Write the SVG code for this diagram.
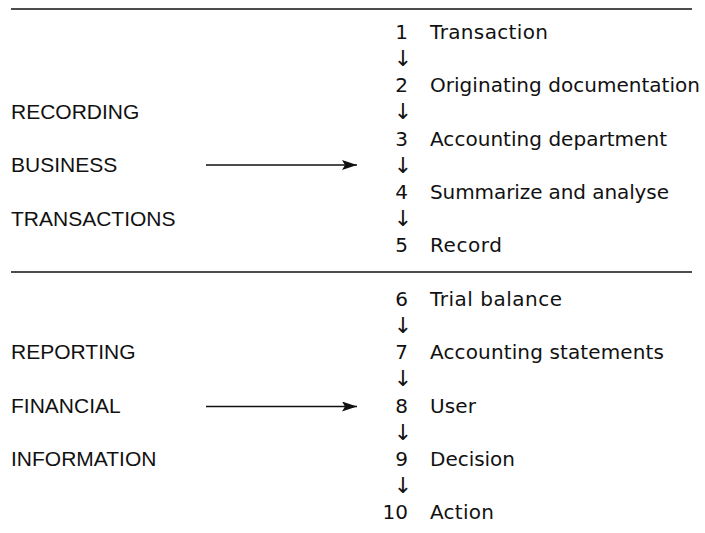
<svg xmlns="http://www.w3.org/2000/svg" width="705" height="533" viewBox="0 0 705 533">
<style>
text{font-family:"DejaVu Sans","Liberation Sans",Arial,sans-serif;font-size:20px;fill:#111}
.cap{font-family:"Liberation Sans",Arial,sans-serif;font-size:21px}
.num{text-anchor:end}
.dn{text-anchor:middle;font-size:22px}
.rule{stroke:#111;stroke-width:1.5}
.conn{stroke:#111;stroke-width:1.5;fill:none}
</style>
<defs>
<marker id="ah" markerWidth="15" markerHeight="10" refX="15" refY="5" orient="auto" markerUnits="userSpaceOnUse">
<path d="M0,0 L15,5 L0,10 L3,5 Z" fill="#111"/>
</marker>
</defs>
<rect width="705" height="533" fill="#fff"/>
<line class="rule" x1="11" y1="9" x2="692" y2="9"/>
<line class="rule" x1="11" y1="272" x2="692" y2="272"/>

<g id="labels-left">
<text class="cap" x="11" y="119">RECORDING</text>
<text class="cap" x="11" y="172.3">BUSINESS</text>
<text class="cap" x="11" y="225.7">TRANSACTIONS</text>
<text class="cap" x="11" y="359.3">REPORTING</text>
<text class="cap" x="11" y="412.7">FINANCIAL</text>
<text class="cap" x="11" y="466">INFORMATION</text>
</g>

<g id="connectors">
<line class="conn" x1="206" y1="165" x2="357" y2="165" marker-end="url(#ah)"/>
<line class="conn" x1="206" y1="406.5" x2="357" y2="406.5" marker-end="url(#ah)"/>
<text class="dn" x="403" y="66">↓</text>
<text class="dn" x="403" y="119.3">↓</text>
<text class="dn" x="403" y="172.6">↓</text>
<text class="dn" x="403" y="226">↓</text>
<text class="dn" x="403" y="333">↓</text>
<text class="dn" x="403" y="386.3">↓</text>
<text class="dn" x="403" y="439.6">↓</text>
<text class="dn" x="403" y="493">↓</text>
</g>

<g id="step1"><text class="num" x="408" y="39">1</text><text x="430" y="39" textLength="118">Transaction</text></g>
<g id="step2"><text class="num" x="408" y="92.3">2</text><text x="430" y="92.3" textLength="270">Originating documentation</text></g>
<g id="step3"><text class="num" x="408" y="145.7">3</text><text x="430" y="145.7" textLength="237">Accounting department</text></g>
<g id="step4"><text class="num" x="408" y="199">4</text><text x="430" y="199" textLength="239">Summarize and analyse</text></g>
<g id="step5"><text class="num" x="408" y="252.3">5</text><text x="430" y="252.3" textLength="72">Record</text></g>
<g id="step6"><text class="num" x="408" y="306">6</text><text x="430" y="306" textLength="132">Trial balance</text></g>
<g id="step7"><text class="num" x="408" y="359.3">7</text><text x="430" y="359.3" textLength="234">Accounting statements</text></g>
<g id="step8"><text class="num" x="408" y="412.7">8</text><text x="430" y="412.7" textLength="46">User</text></g>
<g id="step9"><text class="num" x="408" y="466">9</text><text x="430" y="466" textLength="85">Decision</text></g>
<g id="step10"><text class="num" x="408" y="519.3">10</text><text x="430" y="519.3" textLength="64">Action</text></g>
</svg>
